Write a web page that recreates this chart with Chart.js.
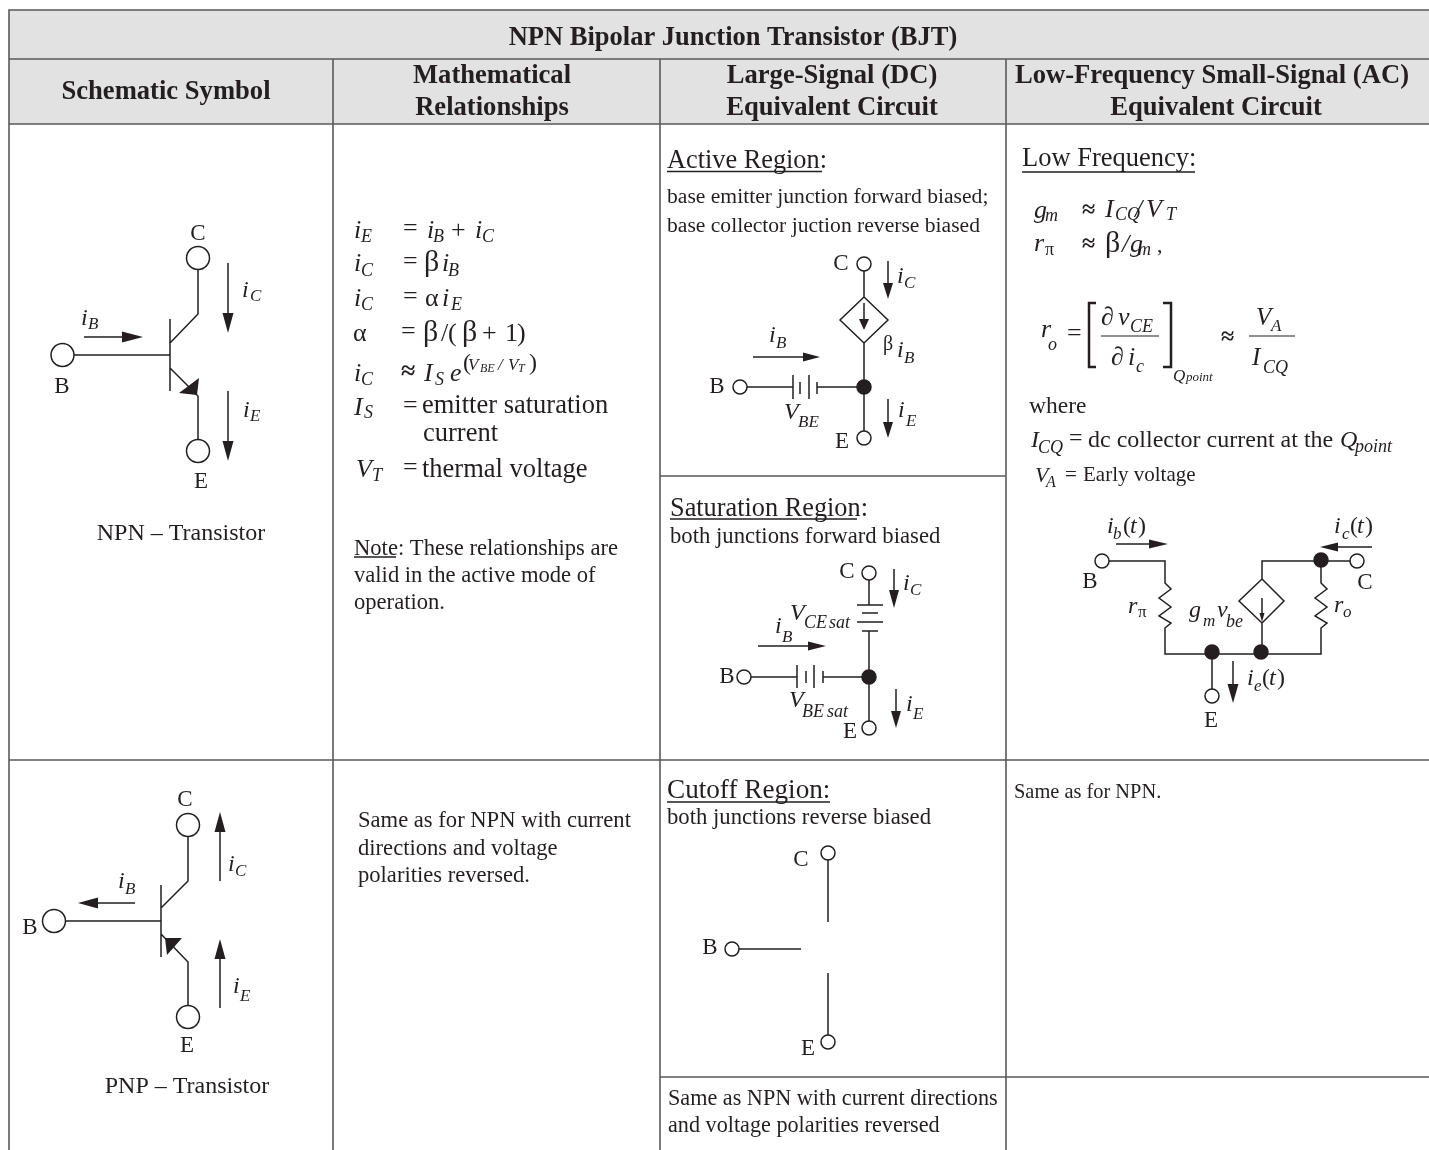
<!DOCTYPE html>
<html>
<head>
<meta charset="utf-8">
<title>NPN Bipolar Junction Transistor (BJT)</title>
<script src="https://cdn.jsdelivr.net/npm/chart.js@4/dist/chart.umd.min.js"></script>
<style>
  html, body { margin: 0; padding: 0; background: #fff; overflow: hidden; }
  #wrap { width: 1429px; height: 1150px; }
</style>
</head>
<body>
<div id="wrap"><canvas id="sheet"></canvas></div>
<script>
// table rules, [x, y] polylines
const gridRules = [
  [[1429, 10], [9, 10], [9, 1150]],
  [[9, 59], [1429, 59]],
  [[9, 124], [1429, 124]],
  [[9, 760], [1429, 760]],
  [[333, 59], [333, 1150]],
  [[660, 59], [660, 1150]],
  [[1006, 59], [1006, 1150]],
  [[660, 476], [1006, 476]],
  [[660, 1077], [1429, 1077]]
]
const headerBands = [
  [[9, 10], [1429, 10], [1429, 124], [9, 124]]
]

// circuit wiring
const wires = [
  // npn symbol
  [[198, 270], [198, 314], [170, 343]],
  [[170, 319], [170, 391]],
  [[74, 355], [170, 355]],
  [[170, 368], [198, 396], [198, 439]],
  [[84, 337], [125, 337]],
  [[228, 263], [228, 315]],
  [[228, 391], [228, 443]],
  // active region
  [[864, 271], [864, 297], [888, 320], [864, 343], [840, 320], [864, 297]],
  [[864, 343], [864, 431]],
  [[864, 303], [864, 322]],
  [[747, 387], [793, 387]],
  [[793, 375], [793, 399]],
  [[800, 382], [800, 394]],
  [[809, 375], [809, 399]],
  [[817, 382], [817, 394]],
  [[817, 387], [864, 387]],
  [[888, 261], [888, 285]],
  [[888, 399], [888, 424]],
  [[753, 357], [805, 357]],
  // saturation region
  [[869, 580], [869, 605]],
  [[857, 605], [883, 605]],
  [[862, 613], [878, 613]],
  [[857, 622], [883, 622]],
  [[862, 631], [878, 631]],
  [[869, 631], [869, 721]],
  [[751, 677], [797, 677]],
  [[797, 665], [797, 688]],
  [[806, 671], [806, 683]],
  [[814, 665], [814, 688]],
  [[823, 671], [823, 683]],
  [[823, 677], [869, 677]],
  [[758, 646], [810, 646]],
  [[894, 569], [894, 592]],
  [[896, 689], [896, 713]],
  // small-signal model
  [[1109, 561], [1165, 561], [1165, 583], [1171, 589], [1159, 598], [1171, 607], [1159, 616], [1171, 623], [1165, 628], [1165, 654], [1321, 654], [1321, 628], [1327, 623], [1315, 616], [1327, 607], [1315, 598], [1327, 589], [1321, 583], [1321, 561]],
  [[1262, 579], [1262, 561], [1351, 561]],
  [[1262, 579], [1284, 601], [1262, 623], [1239, 601], [1262, 579]],
  [[1262, 623], [1262, 654]],
  [[1262, 598], [1262, 615]],
  [[1212, 654], [1212, 690]],
  [[1233, 661], [1233, 686]],
  [[1116, 544], [1151, 544]],
  [[1372, 547], [1336, 547]],
  // pnp symbol
  [[188, 837], [188, 881], [161, 908]],
  [[161, 885], [161, 957]],
  [[66, 921], [161, 921]],
  [[161, 934], [188, 962], [188, 1005]],
  [[135, 903], [96, 903]],
  [[220, 881], [220, 830]],
  [[220, 1008], [220, 957]],
  // cutoff region
  [[828, 860], [828, 922]],
  [[739, 949], [801, 949]],
  [[828, 973], [828, 1035]]
]
const underlines = [
  [[667, 171.5], [822, 171.5]],
  [[670, 519], [857, 519]],
  [[667, 802], [830, 802]],
  [[354, 557], [396, 557]],
  [[1022, 172], [1195, 172]]
]
const heavyStrokes = [
  [[1096, 303], [1089, 303], [1089, 367], [1096, 367]],
  [[1163, 303], [1171, 303], [1171, 367], [1163, 367]]
]
const fractionBars = [
  [[1101, 336], [1159, 336]],
  [[1249, 336], [1295, 336]]
]

// [tip x, tip y, direction, length, half width]
const arrowTips = [
  [143, 337, "r", 21, 5.5], [228, 333, "d", 20, 5.5], [228, 461, "d", 20, 5.5],
  [888, 299, "d", 16, 5], [864, 330, "d", 11, 5], [888, 438, "d", 16, 5], [820, 357, "r", 17, 4.5],
  [894, 608, "d", 18, 5], [896, 728, "d", 17, 5], [826, 646, "r", 18, 4.5],
  [1168, 544, "r", 19, 4.5], [1320, 547, "l", 18, 4.5], [1262, 622, "d", 9, 2.5], [1233, 703, "d", 19, 5.5],
  [78, 903, "l", 20, 5.5], [220, 812, "u", 20, 5.5], [220, 939, "u", 20, 5.5]
]
const emitterHeads = [
  [[179, 393], [199, 378], [197, 395]],
  [[165, 938], [182, 938], [167, 955]]
]

// circuit terminals, [x, y]
const bigTerminals = [[198, 258], [62.5, 355], [198, 451], [188, 825], [54, 921], [188, 1017]]
const smallTerminals = [[864, 264], [740, 387], [864, 438], [869, 573], [744, 677], [869, 728], [1102, 561], [1357, 561], [1212, 696], [828, 853], [732, 949], [828, 1042]]
const junctionDots = [[864, 387], [869, 677], [1321, 560], [1212, 652], [1261, 652]]

// text: [string, x, baseline y, size, style]
const headerLabels = [
  ["NPN Bipolar Junction Transistor (BJT)", 733, 45, 26.5, "bc"],
  ["Schematic Symbol", 166, 99, 26.6, "bc"],
  ["Mathematical", 492, 83, 26.6, "bc"],
  ["Relationships", 492, 115, 26.6, "bc"],
  ["Large-Signal (DC)", 832, 83, 26.6, "bc"],
  ["Equivalent Circuit", 832, 115, 26.6, "bc"],
  ["Low-Frequency Small-Signal (AC)", 1212, 83, 26.6, "bc"],
  ["Equivalent Circuit", 1216, 115, 26.6, "bc"]
]
const symbolLabels = [
  ["C", 198, 240, 23, "rc"], ["B", 62, 393, 23, "rc"], ["E", 201, 488, 23, "rc"],
  ["i", 242, 297, 24, "i"], ["C", 250, 301, 17, "i"],
  ["i", 243, 417, 24, "i"], ["E", 250, 421, 17, "i"],
  ["i", 81, 325, 24, "i"], ["B", 88, 329, 17, "i"],
  ["NPN – Transistor", 181, 540, 24, "rc"],
  ["C", 185, 806, 23, "rc"], ["B", 30, 934, 23, "rc"], ["E", 187, 1052, 23, "rc"],
  ["i", 228, 871, 24, "i"], ["C", 235, 876, 17, "i"],
  ["i", 233, 993, 24, "i"], ["E", 240, 1001, 17, "i"],
  ["i", 118, 888, 24, "i"], ["B", 125, 894, 17, "i"],
  ["PNP – Transistor", 187, 1093, 24, "rc"]
]
const mathLabels = [
  ["i", 354, 238, 26, "i"], ["E", 361, 242, 18, "i"], ["=", 403, 236, 26, "r"],
  ["i", 427, 238, 26, "i"], ["B", 433, 242, 18, "i"], ["+", 451, 238, 26, "r"], ["i", 475, 238, 26, "i"], ["C", 482, 242, 18, "i"],
  ["i", 354, 271, 26, "i"], ["C", 361, 276, 18, "i"], ["=", 403, 269, 26, "r"],
  ["β", 424, 271, 30, "r"], ["i", 442, 271, 26, "i"], ["B", 448, 276, 18, "i"],
  ["i", 354, 306, 26, "i"], ["C", 361, 310, 18, "i"], ["=", 403, 304, 26, "r"],
  ["α", 425, 306, 26, "r"], ["i", 442, 306, 26, "i"], ["E", 451, 310, 18, "i"],
  ["α", 353, 341, 26, "r"], ["=", 401, 339, 26, "r"], ["β", 423, 341, 30, "r"], ["/", 441, 341, 26, "r"],
  ["(", 448, 341, 26, "r"], ["β", 462, 341, 30, "r"], ["+", 482, 341, 26, "r"], ["1", 505, 341, 26, "r"], [")", 517, 341, 26, "r"],
  ["i", 354, 381, 26, "i"], ["C", 361, 385, 18, "i"], ["≈", 401, 379, 26, "b"],
  ["I", 424, 381, 26, "i"], ["S", 435, 385, 18, "i"], ["e", 450, 381, 26, "i"],
  ["(", 463, 370, 24, "r"], ["V", 468, 370, 17, "i"], ["BE", 480, 372, 12, "i"], ["/", 498, 370, 17, "i"],
  ["V", 508, 370, 17, "i"], ["T", 518, 372, 12, "i"], [")", 529, 370, 24, "r"],
  ["I", 354, 415, 26, "i"], ["S", 364, 418, 18, "i"], ["=", 403, 413, 26, "r"], ["emitter saturation", 422, 413, 26.5, "r"],
  ["current", 423, 441, 26.5, "r"],
  ["V", 356, 477, 26, "i"], ["T", 372, 481, 18, "i"], ["=", 403, 475, 26, "r"], ["thermal voltage", 422, 477, 26.5, "r"],
  ["Note: These relationships are", 354, 555, 22.6, "r"],
  ["valid in the active mode of", 354, 582, 22.6, "r"],
  ["operation.", 354, 609, 22.6, "r"],
  ["Same as for NPN with current", 358, 827, 22.6, "r"],
  ["directions and voltage", 358, 855, 22.6, "r"],
  ["polarities reversed.", 358, 882, 22.6, "r"]
]
const activeLabels = [
  ["Active Region:", 667, 168, 26.3, "r"],
  ["base emitter junction forward biased;", 667, 203, 21.6, "r"],
  ["base collector juction reverse biased", 667, 232, 21.6, "r"],
  ["C", 841, 270, 23, "rc"], ["B", 717, 393, 23, "rc"], ["E", 842, 448, 23, "rc"],
  ["i", 897, 283, 24, "i"], ["C", 904, 288, 17, "i"],
  ["β", 883, 350, 20, "r"], ["i", 897, 357, 24, "i"], ["B", 904, 363, 17, "i"],
  ["i", 769, 342, 24, "i"], ["B", 776, 348, 17, "i"],
  ["V", 784, 419, 24, "i"], ["BE", 798, 427, 17, "i"],
  ["i", 898, 417, 24, "i"], ["E", 906, 426, 17, "i"]
]
const saturationLabels = [
  ["Saturation Region:", 670, 516, 26.3, "r"],
  ["both junctions forward biased", 670, 543, 22.7, "r"],
  ["C", 847, 578, 23, "rc"], ["B", 727, 683, 23, "rc"], ["E", 850, 738, 23, "rc"],
  ["V", 790, 620, 24, "i"], ["CE", 804, 628, 18, "i"], ["sat", 829, 628, 18, "i"],
  ["i", 775, 633, 24, "i"], ["B", 782, 642, 17, "i"],
  ["i", 903, 590, 24, "i"], ["C", 910, 595, 17, "i"],
  ["V", 789, 707, 24, "i"], ["BE", 802, 717, 18, "i"], ["sat", 827, 717, 18, "i"],
  ["i", 906, 711, 24, "i"], ["E", 913, 719, 17, "i"]
]
const cutoffLabels = [
  ["Cutoff Region:", 667, 798, 27.2, "r"],
  ["both junctions reverse biased", 667, 824, 22.7, "r"],
  ["C", 801, 866, 23, "rc"], ["B", 710, 954, 23, "rc"], ["E", 808, 1055, 23, "rc"],
  ["Same as NPN with current directions", 668, 1105, 22.2, "r"],
  ["and voltage polarities reversed", 668, 1132, 22.2, "r"]
]
const smallSignalLabels = [
  ["Low Frequency:", 1022, 166, 26.5, "r"],
  ["g", 1034, 218, 26, "i"], ["m", 1045, 221, 18, "i"], ["≈", 1082, 217, 24, "b"],
  ["I", 1105, 217, 26, "i"], ["CQ", 1115, 220, 18, "i"], ["/", 1135, 217, 26, "i"], ["V", 1146, 217, 26, "i"], ["T", 1166, 220, 18, "i"],
  ["r", 1034, 251, 26, "i"], ["π", 1045, 255, 18, "r"], ["≈", 1082, 251, 24, "b"],
  ["β", 1105, 252, 30, "r"], ["/", 1122, 252, 26, "i"], ["g", 1130, 252, 26, "i"], ["m", 1138, 255, 18, "i"], [",", 1157, 252, 22, "r"],
  ["r", 1041, 337, 26, "i"], ["o", 1048, 350, 18, "i"], ["=", 1067, 341, 26, "r"],
  ["∂", 1101, 325, 26, "r"], ["v", 1118, 325, 26, "i"], ["CE", 1130, 332, 18, "i"],
  ["∂", 1111, 365, 26, "r"], ["i", 1128, 365, 26, "i"], ["c", 1136, 372, 18, "i"],
  ["Q", 1173, 381, 17, "i"], ["point", 1186, 381, 13, "i"],
  ["≈", 1221, 344, 24, "b"],
  ["V", 1256, 325, 25, "i"], ["A", 1271, 331, 17, "i"],
  ["I", 1252, 365, 25, "i"], ["CQ", 1263, 373, 18, "i"],
  ["where", 1029, 413, 23.5, "r"],
  ["I", 1031, 447, 24, "i"], ["CQ", 1038, 453, 18, "i"], ["=", 1069, 445, 24, "r"],
  ["dc collector current at the", 1088, 447, 24, "r"],
  ["Q", 1340, 447, 24, "i"], ["point", 1355, 452, 18, "i"],
  ["V", 1035, 482, 22, "i"], ["A", 1046, 487, 16, "i"], ["=", 1065, 481, 21, "r"],
  ["Early voltage", 1083, 481, 21, "r"],
  ["i", 1107, 533, 24, "i"], ["b", 1113, 539, 17, "i"], ["(", 1123, 533, 24, "r"], ["t", 1130, 533, 24, "i"], [")", 1138, 533, 24, "r"],
  ["i", 1334, 533, 24, "i"], ["c", 1342, 539, 17, "i"], ["(", 1350, 533, 24, "r"], ["t", 1357, 533, 24, "i"], [")", 1365, 533, 24, "r"],
  ["B", 1090, 588, 23, "rc"], ["C", 1365, 589, 23, "rc"], ["E", 1211, 727, 23, "rc"],
  ["r", 1128, 613, 24, "i"], ["π", 1138, 617, 17, "r"],
  ["g", 1189, 617, 24, "i"], ["m", 1203, 626, 17, "i"], ["v", 1217, 617, 24, "i"], ["be", 1226, 627, 18, "i"],
  ["r", 1334, 612, 24, "i"], ["o", 1343, 617, 17, "i"],
  ["i", 1247, 685, 24, "i"], ["e", 1254, 691, 17, "i"], ["(", 1262, 685, 24, "r"], ["t", 1269, 685, 24, "i"], [")", 1277, 685, 24, "r"],
  ["Same as for NPN.", 1014, 798, 20.4, "r"]
]
const allLabels = [headerLabels, symbolLabels, mathLabels, activeLabels, saturationLabels, cutoffLabels, smallSignalLabels].flat()

const INK = "#231f20"

function toPoints(list) {
  return list.map(([x, y]) => ({ x, y }))
}

// polylines share one dataset, NaN breaks the path between them
function strokes(lists, color, width, order) {
  const data = []
  lists.forEach(list => {
    data.push(...toPoints(list), { x: NaN, y: NaN })
  })
  return { type: "scatter", data, showLine: true, spanGaps: false, borderColor: color, borderWidth: width, pointRadius: 0, fill: false, order, borderCapStyle: "butt", borderJoinStyle: "miter" }
}

function polygon(list, color, order) {
  return { type: "scatter", data: toPoints([...list, list[0]]), showLine: true, borderColor: color, borderWidth: 0, backgroundColor: color, pointRadius: 0, fill: "shape", order }
}

function arrowHead([x, y, dir, len, half]) {
  if (dir === "d") return [[x, y], [x - half, y - len], [x + half, y - len]]
  if (dir === "u") return [[x, y], [x - half, y + len], [x + half, y + len]]
  if (dir === "r") return [[x, y], [x - len, y - half], [x - len, y + half]]
  return [[x, y], [x + len, y - half], [x + len, y + half]]
}

function nodes(list, radius, fill, order) {
  return { type: "scatter", data: toPoints(list), showLine: false, pointRadius: radius, pointHoverRadius: radius, pointBackgroundColor: fill, pointBorderColor: INK, pointBorderWidth: 1.5, order }
}

const labelPlugin = {
  id: "sheetLabels",
  afterDatasetsDraw(chart) {
    const { ctx, scales } = chart
    ctx.save()
    ctx.fillStyle = INK
    ctx.textBaseline = "alphabetic"
    allLabels.forEach(([text, x, y, size, style]) => {
      const italic = style === "i" ? "italic " : ""
      const bold = style[0] === "b" ? "bold " : ""
      ctx.font = italic + bold + size + 'px "Liberation Serif"'
      ctx.textAlign = style.endsWith("c") ? "center" : "left"
      ctx.fillText(text, scales.x.getPixelForValue(x), scales.y.getPixelForValue(y))
    })
    ctx.restore()
  }
}

new Chart(document.getElementById("sheet"), {
  type: "scatter",
  data: {
    datasets: [
      ...headerBands.map(b => polygon(b, "#e2e2e2", 9)),
      strokes(gridRules, "#5a5a5a", 1.6, 8),
      strokes(wires, INK, 1.5, 5),
      strokes(underlines, INK, 1.3, 5),
      strokes(heavyStrokes, INK, 2.5, 5),
      strokes(fractionBars, INK, 1.2, 5),
      ...arrowTips.map(a => polygon(arrowHead(a), INK, 4)),
      ...emitterHeads.map(h => polygon(h, INK, 4)),
      nodes(bigTerminals, 11.5, "#fff", 2),
      nodes(smallTerminals, 7, "#fff", 2),
      nodes(junctionDots, 7, INK, 1)
    ]
  },
  options: {
    responsive: true,
    maintainAspectRatio: false,
    animation: false,
    layout: { padding: 0, autoPadding: false },
    events: [],
    plugins: { legend: { display: false }, tooltip: { enabled: false } },
    scales: {
      x: { type: "linear", display: false, min: 0, max: 1429 },
      y: { type: "linear", display: false, min: 0, max: 1150, reverse: true }
    }
  },
  plugins: [labelPlugin]
})
</script>
</body>
</html>
